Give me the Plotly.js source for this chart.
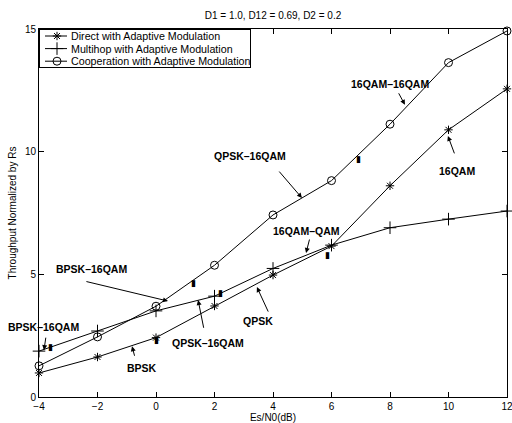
<!DOCTYPE html>
<html><head><meta charset="utf-8">
<script src="https://cdn.plot.ly/plotly-3.0.1.min.js"></script>
<style>html,body{margin:0;padding:0;background:#fff}#chart{width:512px;height:423px}</style>
</head><body><div id="chart"></div>
<script>
const snr = [-4, -2, 0, 2, 4, 6, 8, 10, 12];
const direct = [0.98, 1.63, 2.42, 3.71, 4.97, 6.15, 8.61, 10.89, 12.56];
const multihop = [1.87, 2.69, 3.51, 4.11, 5.24, 6.19, 6.9, 7.25, 7.58];
const coop = [1.27, 2.45, 3.7, 5.37, 7.42, 8.82, 11.12, 13.63, 14.92];
const seriesNames = ['Direct with Adaptive Modulation', 'Multihop with Adaptive Modulation', 'Cooperation with Adaptive Modulation'];
const xTicks = [-4, -2, 0, 2, 4, 6, 8, 10, 12];
const yTicks = [0, 5, 10, 15];

// labels: text, label x/y, arrow tail x/y, arrow tip x/y
const labelText = ['BPSK\u201316QAM', 'BPSK\u201316QAM', 'BPSK', 'QPSK\u201316QAM', 'QPSK', '16QAM\u2013QAM', 'QPSK\u201316QAM', '16QAM\u201316QAM', '16QAM'];
const labelX = [-3.83, -2.19, -0.48, 1.78, 3.49, 5.16, 3.21, 8.0, 10.29];
const labelY = [2.84, 5.21, 1.17, 2.19, 3.09, 6.76, 9.82, 12.76, 9.21];
const tailX = [-3.76, -2.43, -0.72, 1.64, 3.86, 5.26, 4.17, 8.27, 10.22];
const tailY = [2.48, 4.72, 1.62, 2.76, 3.42, 6.48, 9.25, 12.44, 9.87];
const tipX = [-3.83, 0.41, -0.82, 1.44, 3.45, 5.13, 4.99, 8.51, 9.98];
const tipY = [1.91, 3.91, 2.07, 3.95, 4.48, 5.87, 8.11, 11.91, 10.64];
// small bold bars left over on the curves
const barX = [-3.62, 0.03, 1.27, 2.19, 5.85, 6.91];
const barY = [2.03, 2.31, 4.64, 4.23, 5.78, 9.7];

const F = 'Liberation Sans, Arial, Helvetica, sans-serif';
const lineStyle = {color: 'black', width: 1};
const traces = [
  {x: snr, y: direct, name: seriesNames[0], mode: 'lines+markers', line: lineStyle,
   marker: {symbol: 'asterisk-open', size: 7, color: 'black', line: {color: 'black', width: 1}}, cliponaxis: false},
  {x: snr, y: multihop, name: seriesNames[1], mode: 'lines+markers', line: lineStyle,
   marker: {symbol: 'cross-thin-open', size: 9, color: 'black', line: {color: 'black', width: 1}}, cliponaxis: false},
  {x: snr, y: coop, name: seriesNames[2], mode: 'lines+markers', line: lineStyle,
   marker: {symbol: 'circle-open', size: 8, color: 'black', line: {color: 'black', width: 1}}, cliponaxis: false}
];

const annotations = [];
for (let i = 0; i < labelText.length; i++) {
  annotations.push({x: labelX[i], y: labelY[i], xref: 'x', yref: 'y', text: '<b>' + labelText[i] + '</b>',
    showarrow: false, font: {family: F, size: 10.5, color: 'black'}});
  annotations.push({x: tipX[i], y: tipY[i], ax: tailX[i], ay: tailY[i], xref: 'x', yref: 'y', axref: 'x', ayref: 'y',
    text: '', showarrow: true, arrowhead: 2, arrowsize: 1, arrowwidth: 1, arrowcolor: 'black', standoff: 0});
}
for (let i = 0; i < barX.length; i++) {
  annotations.push({x: barX[i], y: barY[i], xref: 'x', yref: 'y', text: '\u25AE', showarrow: false,
    font: {family: 'DejaVu Sans', size: 9, color: 'black'}});
}

const axisCommon = {showline: true, linecolor: 'black', linewidth: 1, mirror: 'allticks', ticks: 'inside', ticklen: 5,
  tickcolor: 'black', showgrid: false, zeroline: false, tickfont: {family: F, size: 10, color: 'black'}, ticklabeloverflow: 'allow'};

const layout = {
  width: 512, height: 423,
  margin: {l: 39, r: 5, t: 29, b: 26},
  paper_bgcolor: 'white', plot_bgcolor: 'white',
  font: {family: F, size: 10, color: 'black'},
  title: {text: 'D1 = 1.0, D12 = 0.69, D2 = 0.2', font: {family: F, size: 10, color: 'black'},
    x: 0.5, xref: 'paper', xanchor: 'center', y: 1 - 15 / 423, yref: 'container', yanchor: 'middle'},
  xaxis: Object.assign({}, axisCommon, {range: [-4, 12], tickvals: xTicks, ticktext: xTicks.map(v => v < 0 ? '\u2212' + (-v) : String(v)),
    title: {text: 'Es/N0(dB)', font: {family: F, size: 10, color: 'black'}, standoff: 3}}),
  yaxis: Object.assign({}, axisCommon, {range: [0, 15], tickvals: yTicks,
    title: {text: 'Throughput Normalized by Rs', font: {family: F, size: 10, color: 'black'}, standoff: 6}}),
  showlegend: true,
  legend: {x: 0, y: 1, xanchor: 'left', yanchor: 'top', bgcolor: 'white', bordercolor: 'black', borderwidth: 1,
    font: {family: F, size: 10.7, color: 'black'}, itemwidth: 30, tracegroupgap: 0},
  annotations: annotations
};

Plotly.newPlot('chart', traces, layout, {displayModeBar: false, staticPlot: true}).then(function (gd) {
  // compact the legend rows to match the reference's tight spacing
  const items = gd.querySelectorAll('.legend .traces');
  items.forEach(function (g, i) {
    g.setAttribute('transform', 'translate(1,' + (7 + 12.6 * i) + ')');
    const t = g.querySelector('.legendtext');
    if (t) t.setAttribute('x', 31);
    g.querySelectorAll('.legendlines path').forEach(function (p) { p.setAttribute('d', 'M5,0h22'); });
    g.querySelectorAll('.legendpoints path').forEach(function (p) {
      const tr = p.getAttribute('transform') || '';
      p.setAttribute('transform', tr.replace(/translate\(([-\d.]+),/, function (m, a) { return 'translate(' + (parseFloat(a) - 3) + ','; }));
    });
  });
  const bg = gd.querySelector('.legend rect.bg');
  if (bg) { bg.setAttribute('height', 38); bg.setAttribute('width', 211); }
});
</script></body></html>
